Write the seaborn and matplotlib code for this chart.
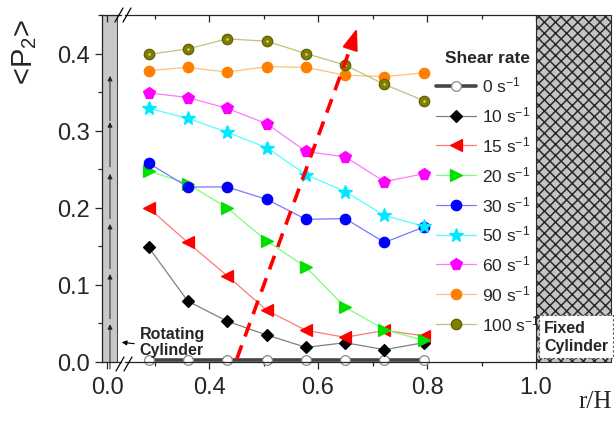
import matplotlib
matplotlib.use("Agg")
import matplotlib.pyplot as plt
import seaborn as sns
import pandas as pd
from matplotlib.patches import Rectangle, FancyArrowPatch
from matplotlib.lines import Line2D
from matplotlib.ticker import MultipleLocator, FixedLocator

# ---------------- data ----------------
r_over_H = [0.289, 0.361, 0.433, 0.506, 0.578, 0.650, 0.722, 0.794]
shear_labels = ["0 s$^{-1}$", "10 s$^{-1}$", "15 s$^{-1}$", "20 s$^{-1}$", "30 s$^{-1}$",
                "50 s$^{-1}$", "60 s$^{-1}$", "90 s$^{-1}$", "100 s$^{-1}$"]
p2_0 = [0.003, 0.003, 0.003, 0.003, 0.003, 0.003, 0.003, 0.003]
p2_10 = [0.149, 0.079, 0.053, 0.035, 0.019, 0.025, 0.016, 0.025]
p2_15 = [0.200, 0.155, 0.112, 0.067, 0.041, 0.032, 0.041, 0.034]
p2_20 = [0.248, 0.231, 0.200, 0.157, 0.123, 0.071, 0.042, 0.028]
p2_30 = [0.258, 0.227, 0.227, 0.211, 0.185, 0.186, 0.155, 0.175]
p2_50 = [0.329, 0.316, 0.298, 0.278, 0.243, 0.221, 0.190, 0.176]
p2_60 = [0.349, 0.343, 0.329, 0.309, 0.273, 0.266, 0.234, 0.244]
p2_90 = [0.378, 0.382, 0.376, 0.383, 0.382, 0.372, 0.370, 0.375]
p2_100 = [0.399, 0.406, 0.419, 0.416, 0.400, 0.385, 0.360, 0.339]
series = [p2_0, p2_10, p2_15, p2_20, p2_30, p2_50, p2_60, p2_90, p2_100]

x_ticks_major = [0.4, 0.6, 0.8, 1.0]
x_ticks_minor = [0.3, 0.5, 0.7, 0.9]
y_ticks = [0.0, 0.1, 0.2, 0.3, 0.4]

# styles (line color, marker, marker face, marker edge, marker size, line width)
styles = [
    ("#454545", "o", "white", "#8a8a8a", 7.0, 2.6),
    ("#808080", "D", "black", "black", 6.0, 0.9),
    ("#ff7878", "<", "#ff0000", "#ff0000", 8.0, 0.9),
    ("#78ff78", ">", "#00e000", "#00e000", 8.0, 0.9),
    ("#7878ff", "o", "#0000ff", "#0000ff", 7.5, 0.9),
    ("#50ffff", "*", "#00e8ff", "#00e8ff", 10.0, 0.9),
    ("#ff78ff", "p", "#ff00ff", "#ff00ff", 8.5, 0.9),
    ("#ffc080", "o", "#ff8000", "#ff8000", 7.5, 0.9),
    ("#c0c080", "o", "#808000", "#606000", 7.5, 0.9),
]

# ---------------- style ----------------
sns.set_style("ticks")
plt.rcParams["font.family"] = ["Liberation Sans", "DejaVu Sans"]
plt.rcParams["mathtext.default"] = "regular"
plt.rcParams["axes.linewidth"] = 0.9
plt.rcParams["hatch.linewidth"] = 1.1

W, H = 614, 431
fig = plt.figure(figsize=(W / 100, H / 100), dpi=100)

px_per_unit = 545.0
x0 = 0.4 - 84 / px_per_unit
x1 = 0.4 + 487 / px_per_unit - 84 / px_per_unit
axL = fig.add_axes([102 / W, 68 / H, 19 / W, 347 / H])
ax = fig.add_axes([125 / W, 68 / H, 487 / W, 347 / H], sharey=axL)

ymax = 0.45
axL.set_ylim(0, ymax)
axL.set_xlim(-5 / px_per_unit, 14 / px_per_unit)
ax.set_xlim(x0, x1)

# ---------------- data lines ----------------
for lab, vals, (lc, mk, mfc, mec, ms, lw) in zip(shear_labels, series, styles):
    df = pd.DataFrame({"r/H": r_over_H, "P2": vals})
    sns.lineplot(data=df, x="r/H", y="P2", ax=ax, color=lc, lw=lw, marker=mk,
                 markersize=ms, markerfacecolor=mfc, markeredgecolor=mec,
                 markeredgewidth=0.9, label=lab, clip_on=False,
                 zorder=3 if lw < 2 else 2.5)
# highlight on olive balls
ax.scatter(r_over_H, p2_100, s=3, color="#d8d8a0", zorder=4, linewidths=0)

# ---------------- main axes decoration ----------------
ax.spines["left"].set_visible(False)
ax.spines["right"].set_visible(False)
ax.spines["top"].set_bounds(x0, 1.0)
ax.spines["bottom"].set_bounds(x0, 1.0)
ax.tick_params(axis="y", which="both", left=False, labelleft=False)
ax.xaxis.set_major_locator(FixedLocator(x_ticks_major))
ax.xaxis.set_minor_locator(FixedLocator(x_ticks_minor))
ax.set_xticklabels(["0.4", "0.6", "0.8", "1.0"])
ax.tick_params(axis="x", which="major", direction="out", length=5, width=0.9,
               labelsize=17, pad=5)
ax.tick_params(axis="x", which="minor", direction="out", length=3, width=0.9)
ax.set_xlabel("")
ax.set_ylabel("")
secT = ax.secondary_xaxis("top")
secT.xaxis.set_major_locator(FixedLocator(x_ticks_major))
secT.xaxis.set_minor_locator(FixedLocator(x_ticks_minor))
secT.tick_params(axis="x", which="major", direction="in", length=5, width=0.9, labeltop=False)
secT.tick_params(axis="x", which="minor", direction="in", length=3, width=0.9)
for s in secT.spines.values():
    s.set_visible(False)

# fixed cylinder (hatched)
ax.add_patch(Rectangle((1.0, 0), x1 - 1.0 - 0.002, ymax, facecolor="#c4c4c4",
                       edgecolor="#2a2a2a", hatch="xxx", lw=0.8, clip_on=False, zorder=1))
ax.text(1.0 + 8 / px_per_unit, 0.012, "Fixed\nCylinder", fontsize=11.5, fontweight="bold",
        ha="left", va="bottom", linespacing=1.25, zorder=5,
        bbox=dict(boxstyle="square,pad=0.3", fc="white", ec="#555555", lw=0.8, ls=(0, (2, 2))))

# rotating cylinder text
ax.text(0.273, 0.006, "Rotating\nCylinder", fontsize=11.5, fontweight="bold",
        ha="left", va="bottom", linespacing=1.15, zorder=5)
fig.add_artist(FancyArrowPatch(
    (137 / W, 1 - 345 / H), (119 / W, 1 - 343 / H), transform=fig.transFigure,
    arrowstyle="-|>", mutation_scale=7, color="black", lw=0.8))

# red dashed trend arrow
ax.plot([0.451, 0.664], [0.004, 0.416], color="red", lw=2.6, ls=(0, (4, 2.6)), zorder=6)
ax.annotate("", xy=(0.673, 0.436), xytext=(0.660, 0.408),
            arrowprops=dict(arrowstyle="-|>,head_length=0.6,head_width=0.22",
                            color="red", lw=1.5, mutation_scale=22),
            zorder=6)

# legend
handles, labels = ax.get_legend_handles_labels()
ax.legend(handles, labels, title="Shear rate",
          title_fontproperties={"weight": "bold", "size": 12.5},
          frameon=False, loc="upper left", bbox_to_anchor=(436 / W, 1 - 51 / H),
          bbox_transform=fig.transFigure, borderpad=0, borderaxespad=0,
          handlelength=2.3, handletextpad=0.35, labelspacing=0.57, fontsize=12.5)

# ---------------- left (rotating) axes ----------------
axL.spines["right"].set_visible(False)
axL.axvspan(-5 / px_per_unit, 10 / px_per_unit, facecolor="#c8c8c8",
            edgecolor="#4a4a4a", lw=0.8, zorder=0)
axL.set_yticks(y_ticks)
axL.set_yticklabels(["0.0", "0.1", "0.2", "0.3", "0.4"])
axL.yaxis.set_minor_locator(MultipleLocator(0.05))
axL.tick_params(axis="y", which="major", direction="out", length=5, width=0.9,
                labelsize=17, pad=4)
axL.tick_params(axis="y", which="minor", direction="out", length=3, width=0.9)
axL.set_xticks([0.0])
axL.set_xticklabels(["0.0"])
axL.tick_params(axis="x", which="major", direction="out", length=5, width=0.9,
                labelsize=17, pad=5)
secL = axL.secondary_xaxis("top")
secL.set_xticks([0.0])
secL.tick_params(axis="x", direction="in", length=5, width=0.9, labeltop=False)
for s in secL.spines.values():
    s.set_visible(False)
axL.set_xlabel("")
axL.set_ylabel("")

# upward arrows in rotating cylinder
ax_arrow_x = 3 / px_per_unit
for top in [0.049, 0.114, 0.179, 0.244, 0.311, 0.371]:
    axL.annotate("", xy=(ax_arrow_x, top), xytext=(ax_arrow_x, top - 0.058),
                 arrowprops=dict(arrowstyle="-|>", color="#222222", lw=0.7,
                                 mutation_scale=7, shrinkA=0, shrinkB=0))

# axis break marks
for (cx, cy) in [(119, 16), (127, 16), (120, 365), (128, 365)]:
    fig.add_artist(Line2D([(cx - 4) / W, (cx + 4) / W], [1 - (cy + 7) / H, 1 - (cy - 7) / H],
                          color="black", lw=0.9, transform=fig.transFigure))

# axis titles
fig.text(25 / W, 1 - 52 / H, "<P$_2$>", rotation=90, ha="center", va="center", fontsize=21)
fig.text(612 / W, 1 - 408 / H, "r/H", ha="right", va="baseline",
         family=["Liberation Serif", "DejaVu Serif"], fontsize=18)

fig.savefig("out.png", dpi=100)
